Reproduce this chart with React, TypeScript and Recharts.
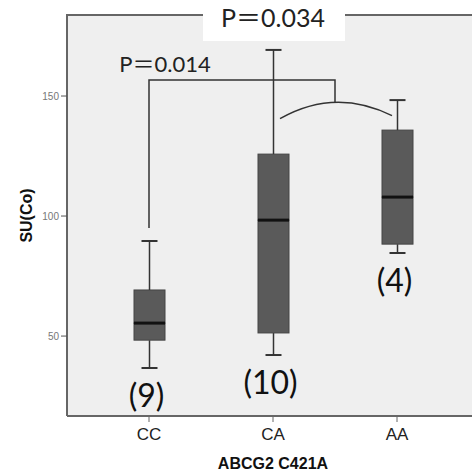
import React from "react";
import { Bar, CartesianGrid, ComposedChart, XAxis, YAxis } from "recharts";

// box plot stats
const categories = ["CC", "CA", "AA"];
const mins = [36.7, 42.1, 84.6];
const q1s = [48.3, 51.3, 88.3];
const medians = [55.4, 98.3, 107.9];
const q3s = [69.2, 125.8, 135.8];
const maxs = [89.6, 169.2, 148.3];
const counts = [9, 10, 4];
const yTicks = [50, 100, 150];

// bracket annotation levels (in SU(Co) units)
const bracketTop = 156.7;
const bracketLeftEnd = 95;
const bracketRightEnd = 147.1;
const arcEnd = 141;

const Y_MIN = 16.7;
const Y_MAX = 183.75;

const PLOT_LEFT = 67;
const PLOT_TOP = 15;
const PLOT_BOTTOM = 416;
const PLOT_W = 412;
const PAD = 20;

const rows = categories.map((name, i) => ({
  name,
  base: mins[i],
  lw: q1s[i] - mins[i],
  lb: medians[i] - q1s[i],
  ub: q3s[i] - medians[i],
  uw: maxs[i] - q3s[i],
  n: counts[i],
}));

const yPx = (v: number) => PLOT_TOP + ((Y_MAX - v) / (Y_MAX - Y_MIN)) * (PLOT_BOTTOM - PLOT_TOP);
const xPx = (i: number) => PLOT_LEFT + PAD + ((i + 0.5) * (PLOT_W - 2 * PAD)) / categories.length;

const LINE = "#333";
const BOX = "#5a5a5a";
const BIG_FONT = "Lato, 'Noto Sans CJK SC', sans-serif";

const LowerWhisker = (p: any) => {
  const cx = p.x + p.width / 2;
  const bottom = p.y + p.height;
  return (
    <g>
      <line x1={cx} x2={cx} y1={p.y} y2={bottom} stroke={LINE} strokeWidth={1.5} />
      <line x1={cx - 8} x2={cx + 8} y1={bottom} y2={bottom} stroke={LINE} strokeWidth={2} />
      <text x={cx - 3} y={bottom + 39} textAnchor="middle" fontSize={32} fontFamily={BIG_FONT} fill="#111">
        ({p.payload.n})
      </text>
    </g>
  );
};

const UpperWhisker = (p: any) => {
  const cx = p.x + p.width / 2;
  return (
    <g>
      <line x1={cx} x2={cx} y1={p.y} y2={p.y + p.height} stroke={LINE} strokeWidth={1.5} />
      <line x1={cx - 8} x2={cx + 8} y1={p.y} y2={p.y} stroke={LINE} strokeWidth={2} />
    </g>
  );
};

const LowerBox = (p: any) => (
  <rect x={p.x} y={p.y} width={p.width} height={p.height} fill={BOX} stroke="#444" strokeWidth={1} />
);

const UpperBox = (p: any) => (
  <g>
    <rect x={p.x} y={p.y} width={p.width} height={p.height} fill={BOX} stroke="#444" strokeWidth={1} />
    <line x1={p.x} x2={p.x + p.width} y1={p.y + p.height} y2={p.y + p.height} stroke="#111" strokeWidth={3} />
  </g>
);

export default function App() {
  const cc = xPx(0);
  const mid = (xPx(1) + xPx(2)) / 2;
  const top = yPx(bracketTop);
  const yMid = (PLOT_TOP + PLOT_BOTTOM) / 2;
  return (
    <div
      style={{
        position: "fixed",
        left: 0,
        top: 0,
        width: 472,
        height: 472,
        overflow: "hidden",
        background: "#fff",
        fontFamily: "'Liberation Sans', Arial, sans-serif",
      }}
    >
      <ComposedChart width={480} height={472} data={rows} margin={{ top: 15, right: 1, bottom: 0, left: 0 }}>
        <CartesianGrid fill="#efefef" horizontal={false} vertical={false} />
        <XAxis
          dataKey="name"
          padding={{ left: PAD, right: PAD }}
          height={56}
          tick={{ fontSize: 17, fill: "#222", dy: 4 }}
          tickSize={6}
          tickLine={{ stroke: "#666" }}
          axisLine={{ stroke: "#666", strokeWidth: 2 }}
          label={{ value: "ABCG2 C421A", position: "insideBottom", offset: 3, fontSize: 16, fontWeight: "bold", fill: "#111" }}
        />
        <YAxis
          type="number"
          width={67}
          domain={[Y_MIN, Y_MAX]}
          allowDataOverflow
          ticks={yTicks}
          tick={{ fontSize: 10, fill: "#777" }}
          tickSize={6}
          tickLine={{ stroke: "#555" }}
          axisLine={{ stroke: "#666", strokeWidth: 2 }}
        />
        <Bar dataKey="base" stackId="b" barSize={31} fill="none" isAnimationActive={false} />
        <Bar dataKey="lw" stackId="b" barSize={31} shape={LowerWhisker} isAnimationActive={false} />
        <Bar dataKey="lb" stackId="b" barSize={31} shape={LowerBox} isAnimationActive={false} />
        <Bar dataKey="ub" stackId="b" barSize={31} shape={UpperBox} isAnimationActive={false} />
        <Bar dataKey="uw" stackId="b" barSize={31} shape={UpperWhisker} isAnimationActive={false} />
      </ComposedChart>
      <svg width={472} height={472} style={{ position: "absolute", left: 0, top: 0, pointerEvents: "none" }}>
        <text
          x={26}
          y={yMid}
          transform={`rotate(-90, 26, ${yMid})`}
          textAnchor="middle"
          dominantBaseline="central"
          fontSize={16}
          fontWeight="bold"
          fill="#111"
          fontFamily="'Liberation Sans', Arial, sans-serif"
        >
          SU(Co)
        </text>
        <line x1={PLOT_LEFT - 1} x2={472} y1={PLOT_TOP} y2={PLOT_TOP} stroke="#666" strokeWidth={2} />
        <rect x={203} y={0} width={142} height={41} fill="#fff" />
        <text x={273} y={27} textAnchor="middle" fontSize={25} fontFamily={BIG_FONT} fill="#222">
          P＝0.034
        </text>
        <text x={165} y={72} textAnchor="middle" fontSize={22} fontFamily={BIG_FONT} fill="#222">
          P＝0.014
        </text>
        <path
          d={`M${cc} ${yPx(bracketLeftEnd)} L${cc} ${top} L${mid} ${top} L${mid} ${yPx(bracketRightEnd)}`}
          fill="none"
          stroke={LINE}
          strokeWidth={1.5}
        />
        <path
          d={`M${xPx(1) + 7} ${yPx(arcEnd) + 1} Q${mid} ${2 * yPx(bracketRightEnd) - yPx(arcEnd) - 1} ${xPx(2) - 5} ${yPx(arcEnd) - 2}`}
          fill="none"
          stroke={LINE}
          strokeWidth={1.5}
        />
      </svg>
    </div>
  );
}
